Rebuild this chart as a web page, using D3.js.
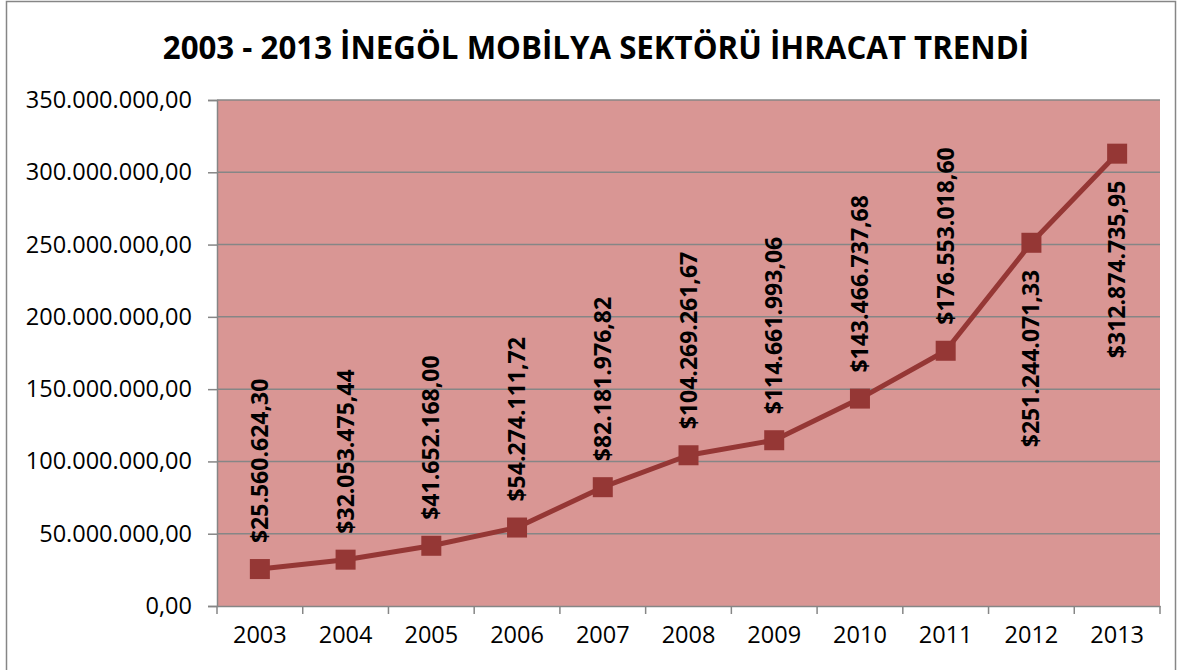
<!DOCTYPE html>
<html>
<head>
<meta charset="utf-8">
<script src="https://cdn.jsdelivr.net/npm/d3@7"></script>
<style>
  body { margin: 0; background: #fff; }
  text { font-family: "Open Sans", sans-serif; fill: #000; }
</style>
</head>
<body>
<script>
// Chart data
var years = ["2003", "2004", "2005", "2006", "2007", "2008", "2009", "2010", "2011", "2012", "2013"];
var exports = [25560624.30, 32053475.44, 41652168.00, 54274111.72, 82181976.82, 104269261.67,
               114661993.06, 143466737.68, 176553018.60, 251244071.33, 312874735.95];
var labelsBelow = ["2012", "2013"];
var yTicks = [0, 50000000, 100000000, 150000000, 200000000, 250000000, 300000000, 350000000];
var title = "2003 - 2013 İNEGÖL MOBİLYA SEKTÖRÜ İHRACAT TRENDİ";

var width = 1182,
    height = 670;

var plot = { left: 217, top: 100, right: 1160, bottom: 606 };

var svg = d3.select("body")
    .append("svg")
    .attr("width", width)
    .attr("height", height);

// chart border
svg.append("rect")
    .attr("x", 6.5).attr("y", 1.5)
    .attr("width", 1169).attr("height", 690)
    .attr("fill", "#fff")
    .attr("stroke", "#868686")
    .attr("stroke-width", 1.5);

// Turkish number format
var trFormat = d3.formatLocale({ decimal: ",", thousands: ".", grouping: [3], currency: ["$", ""] });
var axisFmt = trFormat.format(",.2f");
var labelFmt = trFormat.format("$,.2f");

var x = d3.scaleBand()
    .domain(years)
    .range([plot.left, plot.right]);

var y = d3.scaleLinear()
    .domain([0, 350000000])
    .range([plot.bottom, plot.top]);

// plot background
svg.append("rect")
    .attr("x", plot.left).attr("y", plot.top)
    .attr("width", plot.right - plot.left)
    .attr("height", plot.bottom - plot.top)
    .attr("fill", "#D99694");

// gridlines
svg.append("g")
    .selectAll("line")
    .data(yTicks.slice(1))
    .enter()
    .append("line")
    .attr("x1", plot.left).attr("x2", plot.right)
    .attr("y1", function(d) { return y(d); })
    .attr("y2", function(d) { return y(d); })
    .attr("stroke", "#868686")
    .attr("stroke-width", 1.5);

// y axis
var yAxis = svg.append("g")
    .attr("transform", "translate(" + plot.left + ",0)")
    .call(d3.axisLeft(y).tickValues(yTicks).tickFormat(axisFmt).tickSize(9).tickPadding(16));

// x axis
var xAxis = svg.append("g")
    .attr("transform", "translate(0," + plot.bottom + ")")
    .call(d3.axisBottom(x).tickSize(0).tickPadding(20));

// category tick marks at band edges
svg.append("g")
    .selectAll("line")
    .data(years.concat(["end"]))
    .enter()
    .append("line")
    .attr("x1", function(d, i) { return plot.left + i * x.step(); })
    .attr("x2", function(d, i) { return plot.left + i * x.step(); })
    .attr("y1", plot.bottom)
    .attr("y2", plot.bottom + 8)
    .attr("stroke", "#868686")
    .attr("stroke-width", 1.5);

[yAxis, xAxis].forEach(function(g) {
    g.selectAll("path.domain").attr("stroke", "#868686").attr("stroke-width", 1.5);
    g.selectAll(".tick line").attr("stroke", "#868686").attr("stroke-width", 1.5);
    g.selectAll("text")
        .attr("fill", "#000")
        .style("font-family", "'Open Sans', sans-serif")
        .style("font-size", "23.5px");
});

// line
var line = d3.line()
    .x(function(d, i) { return x(years[i]) + x.bandwidth() / 2; })
    .y(function(d) { return y(d); });

svg.append("path")
    .datum(exports)
    .attr("d", line)
    .attr("fill", "none")
    .attr("stroke", "#953735")
    .attr("stroke-width", 5)
    .attr("stroke-linejoin", "round");

// markers
var m = 20;
svg.append("g")
    .selectAll("rect")
    .data(exports)
    .enter()
    .append("rect")
    .attr("x", function(d, i) { return x(years[i]) + x.bandwidth() / 2 - m / 2; })
    .attr("y", function(d) { return y(d) - m / 2; })
    .attr("width", m)
    .attr("height", m)
    .attr("fill", "#953735");

// data labels, rotated
svg.append("g")
    .selectAll("text")
    .data(exports)
    .enter()
    .append("text")
    .attr("transform", function(d, i) {
        var cx = x(years[i]) + x.bandwidth() / 2;
        var below = labelsBelow.indexOf(years[i]) >= 0;
        var ty = below ? y(d) + 27 : y(d) - 26;
        return "translate(" + cx + "," + ty + ") rotate(-90)";
    })
    .attr("text-anchor", function(d, i) { return labelsBelow.indexOf(years[i]) >= 0 ? "end" : "start"; })
    .attr("dy", "0.35em")
    .style("font-size", "23px")
    .style("font-weight", "bold")
    .text(function(d) { return labelFmt(d); });

// title
var t = svg.append("text")
    .attr("x", 596)
    .attr("y", 59)
    .attr("text-anchor", "middle")
    .style("font-size", "30px")
    .style("font-weight", "bold")
    .text(title);

// fit title to the reference width
var tw = t.node().getComputedTextLength();
t.style("font-size", (30 * 867 / tw) + "px");
</script>
</body>
</html>
